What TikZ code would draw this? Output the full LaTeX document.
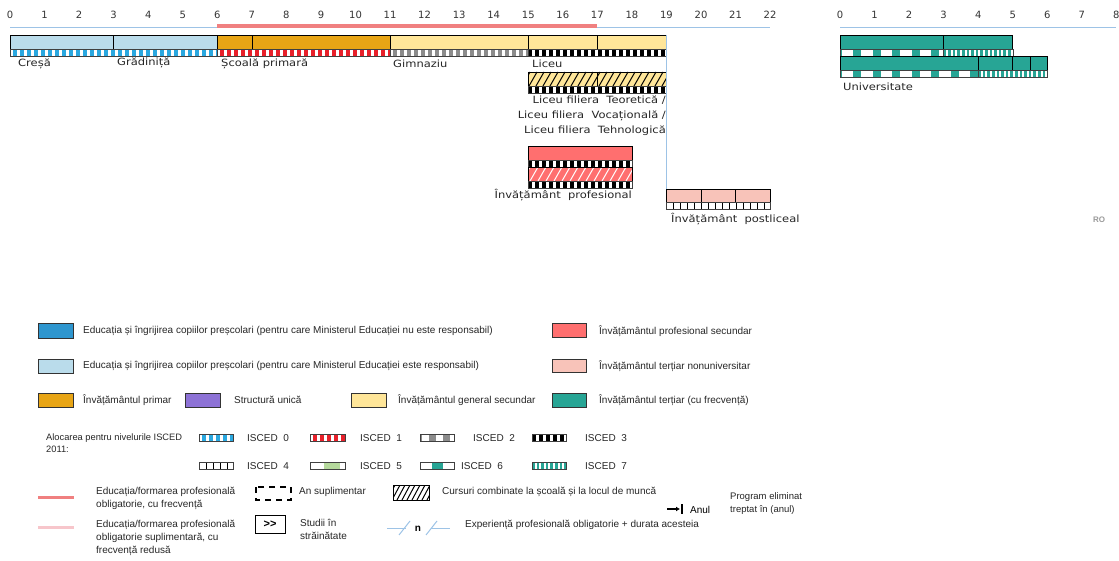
\documentclass[tikz,border=0pt]{standalone}
\usepackage{fontspec}
\usetikzlibrary{arrows.meta}
\setmainfont{DejaVu Sans}
\newfontfamily\lblfont[FakeStretch=1.15]{DejaVu Sans}
\newfontfamily\legfont{Liberation Sans}

\definecolor{axisblue}{HTML}{9DC3E6}
\definecolor{oblred}{HTML}{F08080}
\definecolor{oblpink}{HTML}{F7C6CB}
\definecolor{preblue}{HTML}{2E96CF}
\definecolor{prelight}{HTML}{BADCEB}
\definecolor{primorange}{HTML}{E8A515}
\definecolor{secyellow}{HTML}{FFE699}
\definecolor{profred}{HTML}{FF6F6F}
\definecolor{postpink}{HTML}{F8C3B9}
\definecolor{uniteal}{HTML}{27A595}
\definecolor{unipurple}{HTML}{8D72D6}
\definecolor{iscblue}{HTML}{2AA8E0}
\definecolor{iscred}{HTML}{E8202A}
\definecolor{iscgray}{HTML}{8C8C8C}
\definecolor{iscgreen}{HTML}{B5D99C}

\tikzset{
  axisnum/.style={font=\fontsize{10}{12}\selectfont, text=black!80, inner sep=0pt},
  lbl/.style={font=\lblfont\fontsize{10}{12}\selectfont, text=black!85, inner sep=0pt, anchor=west},
  lblr/.style={lbl, anchor=east},
  legtext/.style={font=\legfont\fontsize{10}{13}\selectfont, text=black!85, inner sep=0pt, anchor=west, align=left},
  yearbox/.style={draw=black, line width=0.7pt},
  swatch/.style={draw=black!80, line width=0.9pt}
}

% stripe of ISCED cells: [offset], x1, x2, top, colour, period, cell width
\newcommand{\iscedrow}[7][0]{%
  \begin{scope}
    \clip (#2,#4) rectangle (#3,#4+7);
    \fill[white] (#2,#4) rectangle (#3,#4+7);
    \pgfmathtruncatemacro\nc{(#3-#2)/#6+1}
    \foreach \k in {-1,...,\nc}
      \fill[#5] ({#2+#1+\k*#6},#4) rectangle ++(#7,7);
  \end{scope}
  \draw[black!75, line width=0.5pt] (#2,#4) rectangle (#3,#4+7);}

% diagonal hatching: x1, x2, top, height, colour, spacing
\newcommand{\hatchbox}[6]{%
  \begin{scope}
    \clip (#1,#3) rectangle (#2,#3+#4);
    \pgfmathtruncatemacro\nh{(#2-#1)/#6+2}
    \foreach \k in {0,...,\nh}
      \draw[#5, line width=1pt] ({#1+\k*#6-6},#3+#4) -- ++(8,-#4);
  \end{scope}}

\begin{document}
\begin{tikzpicture}[x=1pt,y=-1pt]
\useasboundingbox (0,0) rectangle (1119,561);

% axes
\foreach \k in {0,...,22}
  \node[axisnum] (age\k) at ({10+34.55*\k},15) {\k};
\foreach \k in {0,...,8}
  \node[axisnum] (uni\k) at ({840+34.55*\k},15) {\k};
\draw[axisblue, line width=1pt] (10,28) -- (770,28);
\draw[oblred, line width=4pt] (217,26) -- (597,26);
\draw[axisblue, line width=1pt] (840,28) -- (1116,28);

% main row
\fill[prelight] (10,35) rectangle (217,49);
\fill[primorange] (217,35) rectangle (390,49);
\fill[secyellow] (390,35) rectangle (666,49);
\foreach \a/\b in {10/113, 113/217, 217/252, 252/390, 390/528, 528/597, 597/666}
  \draw[yearbox] (\a,35) rectangle (\b,49);
\iscedrow[3]{10}{217}{49}{iscblue}{7}{4}
\iscedrow[3]{217}{390}{49}{iscred}{7}{4}
\iscedrow[3]{390}{528}{49}{iscgray}{7}{4}
\iscedrow{528}{666}{49}{black}{7}{4}

\node[lbl] (cresa) at (18,64) {Creșă};
\node[lbl] (gradi) at (117,63) {Grădiniță};
\node[lbl] (primar) at (221,64) {Școală primară};
\node[lbl] (gimn) at (393,64) {Gimnaziu};
\node[lbl] (liceu) at (532,64) {Liceu};

% liceu filiera
\fill[secyellow] (528,72) rectangle (666,86);
\hatchbox{528}{666}{72}{14}{black}{7}
\draw[yearbox] (528,72) rectangle (597,86);
\draw[yearbox] (597,72) rectangle (666,86);
\iscedrow{528}{666}{86}{black}{7}{4}
\node[lblr] (fil1) at (666,100) {Liceu filiera\ \ Teoretică /};
\node[lblr] (fil2) at (666,116) {Liceu filiera\ \ Vocațională /};
\node[lblr] (fil3) at (666,131) {Liceu filiera\ \ Tehnologică};

% profesional
\fill[profred] (528,146) rectangle (632,160);
\draw[yearbox] (528,146) rectangle (632,160);
\iscedrow{528}{632}{160}{black}{7}{4}
\fill[profred] (528,167) rectangle (632,181);
\hatchbox{528}{632}{167}{14}{white}{8}
\draw[yearbox] (528,167) rectangle (632,181);
\iscedrow{528}{632}{181}{black}{7}{4}
\node[lblr] (prof) at (632,195) {Învățământ\ \ profesional};

% postliceal
\fill[postpink] (666,189) rectangle (770,202);
\foreach \a/\b in {666/701, 701/735.5, 735.5/770}
  \draw[yearbox] (\a,189) rectangle (\b,202);
\iscedrow{666}{770}{202}{black}{7}{1.2}
\node[lbl] (postlic) at (671,219) {Învățământ\ \ postliceal};

\draw[axisblue, line width=1pt] (666,35) -- (666,189);

% universitate
\fill[uniteal] (840,35) rectangle (1012.75,49);
\draw[yearbox] (840,35) rectangle (943.65,49);
\draw[yearbox] (943.65,35) rectangle (1012.75,49);
\iscedrow[13]{840}{943.65}{49}{uniteal}{19.5}{8}
\iscedrow{943.65}{1012.75}{49}{uniteal}{4.6}{2.6}
\fill[uniteal] (840,56) rectangle (1047.3,70);
\foreach \a/\b in {840/978.2, 978.2/1012.75, 1012.75/1030, 1030/1047.3}
  \draw[yearbox] (\a,56) rectangle (\b,70);
\iscedrow[13]{840}{978.2}{70}{uniteal}{19.5}{8}
\iscedrow{978.2}{1047.3}{70}{uniteal}{4.6}{2.6}
\node[lbl] (univ) at (843,87) {Universitate};

\node[font=\legfont\bfseries\fontsize{8}{10}\selectfont, text=black!40, inner sep=0pt] (ro) at (1099,220) {RO};

% legend: colours
\draw[swatch, fill=preblue] (38,323) rectangle (73,338);
\node[legtext] (lgpre1) at (83,331) {Educația\ și îngrijirea\ copiilor preșcolari (pentru care Ministerul Educației nu este responsabil)};
\draw[swatch, fill=prelight] (38,359) rectangle (73,373);
\node[legtext] (lgpre2) at (83,366) {Educația\ și îngrijirea\ copiilor preșcolari (pentru care Ministerul Educației este responsabil)};
\draw[swatch, fill=primorange] (38,393) rectangle (73,407);
\node[legtext] (lgprim) at (83,400) {Învățământul primar};
\draw[swatch, fill=unipurple] (185,393) rectangle (220,407);
\node[legtext] (lgunic) at (234,400) {Structură unică};
\draw[swatch, fill=secyellow] (351,393) rectangle (386,407);
\node[legtext] (lgsec) at (398,400) {Învățământul general secundar};
\draw[swatch, fill=profred] (552,323) rectangle (586,337);
\node[legtext] (lgprof) at (599,331) {Învățământul profesional secundar};
\draw[swatch, fill=postpink] (552,359) rectangle (586,372);
\node[legtext] (lgpost) at (599,366) {Învățământul terțiar nonuniversitar};
\draw[swatch, fill=uniteal] (552,393) rectangle (586,407);
\node[legtext] (lgter) at (599,400) {Învățământul terțiar (cu frecvență)};

% legend: ISCED
\node[legtext, font=\legfont\fontsize{9.3}{12}\selectfont] (lgalloc) at (46,443) {Alocarea pentru nivelurile ISCED\\2011:};
\iscedrow[3]{199}{233}{434}{iscblue}{7}{4}
\node[legtext] (lg0) at (247,438) {ISCED\ \ 0};
\iscedrow[3]{310}{345}{434}{iscred}{7}{4}
\node[legtext] (lg1) at (360,438) {ISCED\ \ 1};
\iscedrow[9]{420}{454}{434}{iscgray}{14}{7}
\node[legtext] (lg2) at (473,438) {ISCED\ \ 2};
\iscedrow{532}{566}{434}{black}{7}{4}
\node[legtext] (lg3) at (585,438) {ISCED\ \ 3};
\iscedrow{199}{233}{462}{black}{7}{1.2}
\node[legtext] (lg4) at (247,466) {ISCED\ \ 4};
\iscedrow[14]{310}{345}{462}{iscgreen}{40}{16}
\node[legtext] (lg5) at (360,466) {ISCED\ \ 5};
\iscedrow[12]{420}{454}{462}{uniteal}{40}{11}
\node[legtext] (lg6) at (461,466) {ISCED\ \ 6};
\iscedrow{532}{566}{462}{uniteal}{4.6}{2.6}
\node[legtext] (lg7) at (585,466) {ISCED\ \ 7};

% legend: other symbols
\draw[oblred, line width=3pt] (38,497) -- (74,497);
\node[legtext] (lgobl) at (96,498) {Educația/formarea profesională\\obligatorie, cu frecvență};
\draw[oblpink, line width=3pt] (38,527) -- (74,527);
\node[legtext] (lgsup) at (96,538) {Educația/formarea profesională\\obligatorie suplimentară, cu\\frecvență redusă};
\draw[black, line width=1.3pt, dash pattern=on 6pt off 5pt] (256,487) rectangle (291,500);
\node[legtext] (lgan) at (299,492) {An suplimentar};
\hatchbox{393}{429}{485}{15}{black}{5}
\draw[black, line width=0.8pt] (393,485) rectangle (429,500);
\node[legtext] (lgcomb) at (442,492) {Cursuri combinate la școală și la locul de muncă};
\node[draw, line width=0.8pt, minimum width=30pt, minimum height=18pt, inner sep=0pt,
      font=\legfont\bfseries\fontsize{11}{12}\selectfont] (abroad) at (270,524) {>>};
\node[legtext] (lgabr) at (300,529) {Studii în\\străinătate};
\draw[axisblue, line width=1pt] (387,528) -- (406,528);
\draw[axisblue, line width=1pt] (399,535) -- (410,521);
\node[font=\legfont\bfseries\fontsize{10}{11}\selectfont, inner sep=0pt] (lgn) at (418,529) {n};
\draw[axisblue, line width=1pt] (426,535) -- (437,521);
\draw[axisblue, line width=1pt] (431,528) -- (450,528);
\node[legtext] (lgexp) at (465,525) {Experiență profesională obligatorie + durata acesteia};
\draw[black, line width=1.6pt, -{Latex[length=4pt,width=5pt]}] (667,509) -- (680,509);
\draw[black, line width=1.6pt] (682,504) -- (682,514);
\node[font=\legfont\fontsize{10}{11}\selectfont, inner sep=0pt, anchor=west] (lganul) at (690,510) {Anul};
\node[font=\legfont\fontsize{9.5}{13}\selectfont, text=black!85, inner sep=0pt, anchor=west, align=left] (lgprog) at (730,504) {Program eliminat\\treptat în\ (anul)};
\end{tikzpicture}
\end{document}
